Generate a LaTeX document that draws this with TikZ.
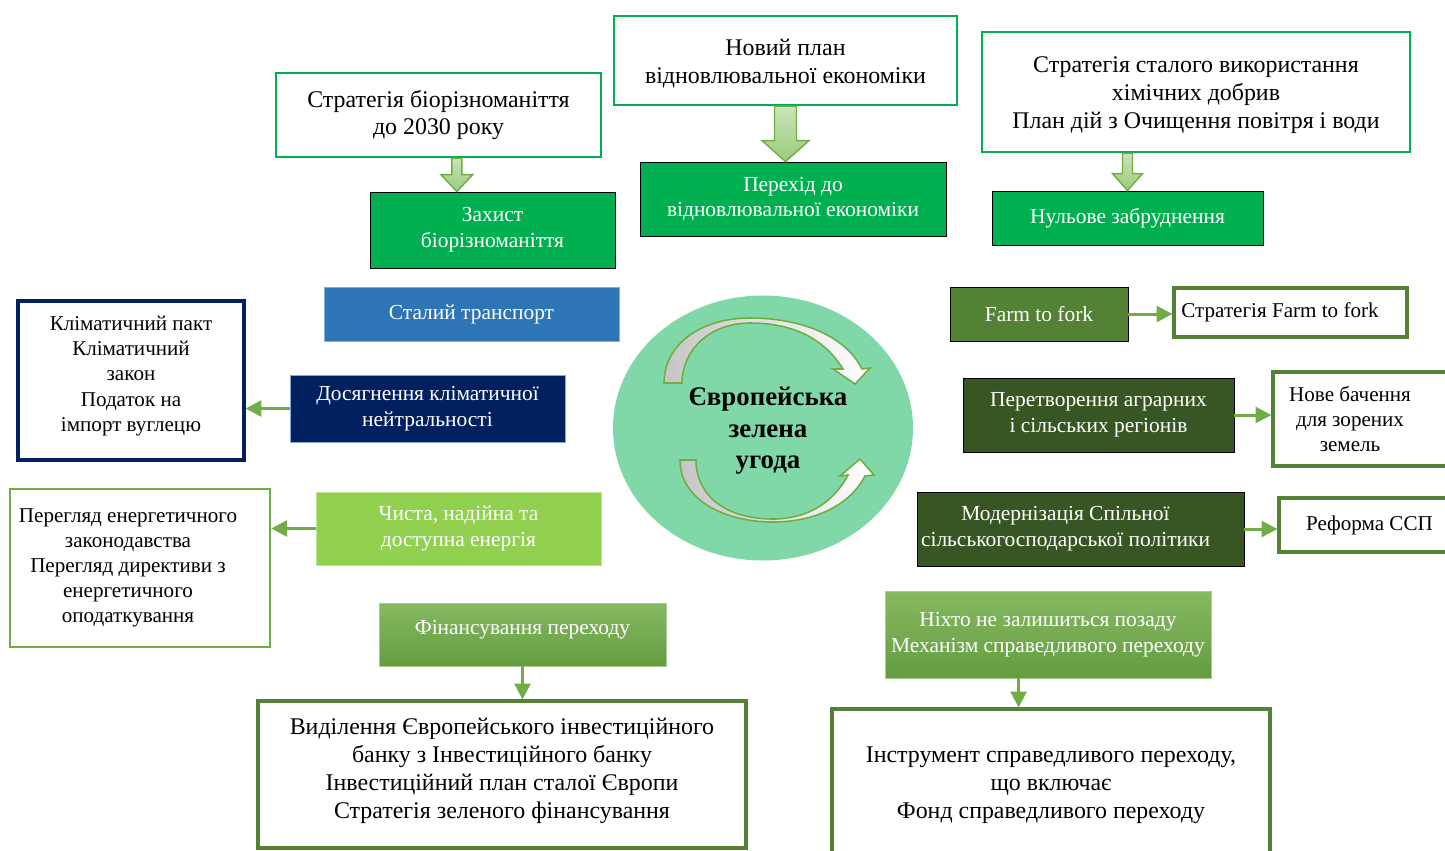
\documentclass[tikz,border=0pt]{standalone}
\usepackage{fontspec}
\setmainfont{Liberation Serif}
\usepackage{tikz}
\usetikzlibrary{arrows.meta, shapes.geometric, positioning, calc}

\definecolor{zelen}{HTML}{00B050}
\definecolor{salat}{HTML}{92D050}
\definecolor{trava}{HTML}{70AD47}
\definecolor{olyva}{HTML}{548235}
\definecolor{lis}{HTML}{375623}
\definecolor{temnosyn}{HTML}{002060}
\definecolor{syn}{HTML}{2E75B6}
\definecolor{myata}{HTML}{80D8A8}
\definecolor{svitlyj}{HTML}{C9E3BA}
\definecolor{kvit}{HTML}{9CCB7C}

\newcommand{\velyk}{\fontsize{13.6}{15.9}\selectfont}
\newcommand{\serednij}{\fontsize{12.2}{14.7}\selectfont}
\newcommand{\drib}{\fontsize{12}{14.3}\selectfont}
\newcommand{\nazva}{\bfseries\fontsize{15.3}{18}\selectfont}

% blokova strilka: pochatok, kinec, pivshyryna, pivgolova, dovzhyna golovy
\newcommand{\blokstril}[5]{%
  \filldraw[blok] ($(#1)+(-#3,0)$) -- ($(#2)+(-#3,-#5)$) -- ($(#2)+(-#4,-#5)$) -- (#2)
    -- ($(#2)+(#4,-#5)$) -- ($(#2)+(#3,-#5)$) -- ($(#1)+(#3,0)$) -- cycle;}

\tikzset{
  rozmir/.style 2 args={minimum width=#1*0.02cm, minimum height=#2*0.02cm},
  bilyj/.style={draw, line width=1.4pt, fill=white, align=center, inner sep=1pt, font=\velyk},
  povnyj/.style={draw=black, line width=0.5pt, align=center, text=white, inner sep=1pt, font=\serednij},
  napys/.style={align=center, inner sep=0pt},
  zvjazok/.style={draw=trava, line width=1.7pt, -{Triangle[length=9pt, width=9pt]}},
  blok/.style={draw=trava, line width=0.8pt, top color=svitlyj, bottom color=kvit},
  kolo/.style={ellipse, fill=myata, inner sep=0pt},
  duha/.style={draw=trava, line width=0.9pt, left color=gray!45, middle color=gray!8, right color=white}
}

\begin{document}
\begin{tikzpicture}[x=0.02cm, y=-0.02cm]
    \useasboundingbox (0,0) rectangle (1445,850);
    % Verkhnij rjad
    \node[bilyj, draw=zelen, rozmir={325}{84}] (bioS) at (438.5,115) {Стратегія біорізноманіття\\до 2030 року};
    \node[povnyj, fill=zelen, rozmir={245}{76}] (bioP) at (492.5,230) {Захист\\біорізноманіття};
    \node[bilyj, draw=zelen, rozmir={343}{89},
      label={[napys, font=\velyk, yshift=-0.07cm]center:Новий план\\відновлювальної економіки}] (econS) at (785.5,60.5) {};
    \node[povnyj, fill=zelen, rozmir={306}{74}] (econP) at (793,199) {Перехід до\\відновлювальної економіки};
    \node[bilyj, draw=zelen, rozmir={428}{120},
      label={[napys, font=\velyk, yshift=-0.07cm]center:Стратегія сталого використання\\хімічних добрив\\План дій з Очищення повітря і води}] (chemS) at (1196,92) {};
    \node[povnyj, fill=zelen, rozmir={271}{54}] (pollP) at (1127.5,218) {Нульове забруднення};
    % Blokovi strilky
    \coordinate (b1) at ($(bioS.south west)!0.556!(bioS.south east)$);
    \coordinate (b2) at (b1 |- bioP.north);
    \blokstril{b1}{b2}{5}{16}{17}
    \coordinate (e1) at (econS.south);
    \coordinate (e2) at (e1 |- econP.north);
    \blokstril{e1}{e2}{11}{23.5}{21}
    \coordinate (c2) at (pollP.north);
    \coordinate (c1) at (c2 |- chemS.south);
    \blokstril{c1}{c2}{5}{15}{17}
    % Liva chastyna
    \node[povnyj, fill=syn, draw=syn!60!white, rozmir={295}{54}] (transP) at (471.5,314) {Сталий транспорт};
    \node[bilyj, draw=temnosyn, line width=1.8pt, rozmir={226}{159},
      label={[napys, font=\drib, yshift=0.09cm]center:Кліматичний пакт\\Кліматичний\\закон\\Податок на\\імпорт вуглецю}] (climS) at (131,380.5) {};
    \node[povnyj, fill=temnosyn, draw=syn!60!white, rozmir={275}{67}] (climP) at (427.5,408.5) {Досягнення кліматичної\\нейтральності};
    \node[bilyj, draw=trava, rozmir={260}{158},
      label={[napys, font=\drib, xshift=-0.24cm]center:Перегляд енергетичного\\законодавства\\Перегляд директиви з\\енергетичного\\оподаткування}] (enS) at (140,568) {};
    \node[povnyj, fill=salat, draw=salat!60!white, rozmir={285}{73}] (enP) at (458.5,528.5) {Чиста, надійна та\\доступна енергія};
    \node[povnyj, top color=trava!85!white, bottom color=trava!90!black, draw=trava!60!white, rozmir={287}{63},
      label={[napys, text=white, font=\serednij, yshift=0.1cm]center:Фінансування переходу}] (finP) at (522.5,634.5) {};
    \node[bilyj, draw=olyva, line width=1.8pt, rozmir={488}{147},
      label={[napys, font=\velyk, yshift=0.08cm]center:Виділення Європейського інвестиційного\\банку з Інвестиційного банку\\Інвестиційний план сталої Європи\\Стратегія зеленого фінансування}] (finS) at (502,774.5) {};
    \draw[zvjazok] (climP.west) -- (climP.west -| climS.east);
    \draw[zvjazok] (enP.west) -- (enP.west -| enS.east);
    \draw[zvjazok] (finP.south) -- (finP.south |- finS.north);
    % Prava chastyna
    \node[povnyj, fill=olyva, rozmir={178}{54}] (farmP) at (1039,314) {Farm to fork};
    \node[bilyj, draw=olyva, line width=1.8pt, rozmir={233}{49},
      label={[napys, font=\drib, xshift=-0.21cm]center:Стратегія Farm to fork}] (farmS) at (1290.5,312.5) {};
    \node[povnyj, fill=lis, rozmir={271}{74}] (agrP) at (1098.5,415) {Перетворення аграрних\\і сільських регіонів};
    \node[bilyj, draw=olyva, line width=1.8pt, rozmir={187}{94},
      label={[napys, font=\drib, xshift=-0.33cm]center:Нове бачення\\для зорених\\земель}] (agrS) at (1366.5,419) {};
    \node[povnyj, fill=lis, rozmir={327}{74},
      label={[napys, text=white, font=\serednij, xshift=-0.3cm]center:Модернізація Спільної\\сільськогосподарської політики}] (capP) at (1080.5,529) {};
    \node[bilyj, draw=olyva, line width=1.8pt, font=\drib, rozmir={181}{54}] (capS) at (1369.5,525) {Реформа ССП};
    \node[povnyj, top color=trava!85!white, bottom color=trava!90!black, draw=trava!60!white, rozmir={326}{87}] (justP) at (1048,634.5) {Ніхто не залишиться позаду\\Механізм справедливого переходу};
    \node[bilyj, draw=olyva, line width=1.8pt, rozmir={438}{153}] (justS) at (1051,785.5) {Інструмент справедливого переходу,\\що включає\\Фонд справедливого переходу};
    \draw[zvjazok] (farmP.east) -- (farmP.east -| farmS.west);
    \draw[zvjazok] (agrP.east) -- (agrP.east -| agrS.west);
    \draw[zvjazok] (capP.east) -- (capP.east -| capS.west);
    \coordinate (jt) at ($(justP.south west)!0.41!(justP.south east)$);
    \draw[zvjazok] (jt) -- (jt |- justS.north);
    % Centr
    \node[kolo, rozmir={300}{265},
      label={[napys, font=\nazva, xshift=0.1cm, yshift=-0.06cm]center:Європейська\\зелена\\угода}] (ugoda) at (763,428) {};
    \path[duha] (664,383) .. controls (664,345) and (700,318) .. (750,318)
        .. controls (800,318) and (845,335) .. (862,369) -- (870,368) -- (855,384) -- (833,369) -- (843,369)
        .. controls (825,340) and (795,323) .. (750,323) .. controls (710,323) and (682,350) .. (682,383) -- cycle;
    \path[duha] (680,460) .. controls (680,500) and (725,522) .. (773,522)
        .. controls (815,522) and (850,505) .. (865,476) -- (874,475) -- (860,459) -- (840,476) -- (848,475)
        .. controls (835,500) and (810,519) .. (773,519) .. controls (725,519) and (696,495) .. (696,460) -- cycle;
\end{tikzpicture}
\end{document}
